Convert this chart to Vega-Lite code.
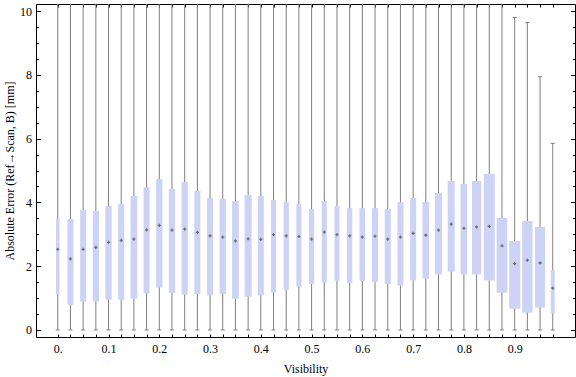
{
  "$schema": "https://vega.github.io/schema/vega-lite/v6.json",
  "autosize": {"type": "none"},
  "width": 539,
  "height": 333,
  "padding": {"left": 36, "top": 4, "right": 1, "bottom": 40},
  "background": "white",
  "config": {
    "view": {"stroke": "black", "strokeWidth": 1},
    "axis": {
      "domain": false,
      "grid": false,
      "tickColor": "black",
      "tickWidth": 1,
      "labelFont": "Liberation Serif",
      "labelFontSize": 12,
      "labelColor": "black",
      "titleFont": "Liberation Serif",
      "titleFontSize": 12,
      "titleFontWeight": "normal",
      "titleColor": "black"
    }
  },
  "data": {
    "values": [
      {"v": 0.000, "min": 0, "q1": 1.11, "med": 2.53, "q3": 3.47, "max": 12, "n": 0.32},
      {"v": 0.025, "min": 0, "q1": 0.79, "med": 2.23, "q3": 3.48, "max": 12, "n": 0.55},
      {"v": 0.050, "min": 0, "q1": 0.89, "med": 2.53, "q3": 3.76, "max": 12, "n": 0.55},
      {"v": 0.075, "min": 0, "q1": 0.89, "med": 2.59, "q3": 3.73, "max": 12, "n": 0.57},
      {"v": 0.100, "min": 0, "q1": 0.95, "med": 2.75, "q3": 3.89, "max": 12, "n": 0.57},
      {"v": 0.125, "min": 0, "q1": 0.95, "med": 2.81, "q3": 3.95, "max": 12, "n": 0.55},
      {"v": 0.150, "min": 0, "q1": 0.98, "med": 2.85, "q3": 4.20, "max": 12, "n": 0.61},
      {"v": 0.175, "min": 0, "q1": 1.15, "med": 3.14, "q3": 4.47, "max": 12, "n": 0.55},
      {"v": 0.200, "min": 0, "q1": 1.33, "med": 3.28, "q3": 4.73, "max": 12, "n": 0.57},
      {"v": 0.225, "min": 0, "q1": 1.16, "med": 3.13, "q3": 4.42, "max": 12, "n": 0.57},
      {"v": 0.250, "min": 0, "q1": 1.11, "med": 3.16, "q3": 4.64, "max": 12, "n": 0.57},
      {"v": 0.275, "min": 0, "q1": 1.13, "med": 3.06, "q3": 4.36, "max": 12, "n": 0.55},
      {"v": 0.300, "min": 0, "q1": 1.08, "med": 2.95, "q3": 4.14, "max": 12, "n": 0.55},
      {"v": 0.325, "min": 0, "q1": 1.13, "med": 2.91, "q3": 4.11, "max": 12, "n": 0.57},
      {"v": 0.350, "min": 0, "q1": 0.98, "med": 2.79, "q3": 4.04, "max": 12, "n": 0.61},
      {"v": 0.375, "min": 0, "q1": 1.04, "med": 2.86, "q3": 4.23, "max": 12, "n": 0.64},
      {"v": 0.400, "min": 0, "q1": 1.08, "med": 2.84, "q3": 4.20, "max": 12, "n": 0.55},
      {"v": 0.425, "min": 0, "q1": 1.17, "med": 2.99, "q3": 4.08, "max": 12, "n": 0.46},
      {"v": 0.450, "min": 0, "q1": 1.26, "med": 2.95, "q3": 4.01, "max": 12, "n": 0.48},
      {"v": 0.475, "min": 0, "q1": 1.36, "med": 2.93, "q3": 3.95, "max": 12, "n": 0.46},
      {"v": 0.500, "min": 0, "q1": 1.44, "med": 2.85, "q3": 3.79, "max": 12, "n": 0.48},
      {"v": 0.525, "min": 0, "q1": 1.48, "med": 3.07, "q3": 4.04, "max": 12, "n": 0.46},
      {"v": 0.550, "min": 0, "q1": 1.54, "med": 2.99, "q3": 3.89, "max": 12, "n": 0.46},
      {"v": 0.575, "min": 0, "q1": 1.47, "med": 2.95, "q3": 3.82, "max": 12, "n": 0.48},
      {"v": 0.600, "min": 0, "q1": 1.54, "med": 2.91, "q3": 3.82, "max": 12, "n": 0.52},
      {"v": 0.625, "min": 0, "q1": 1.50, "med": 2.94, "q3": 3.82, "max": 12, "n": 0.55},
      {"v": 0.650, "min": 0, "q1": 1.44, "med": 2.85, "q3": 3.79, "max": 12, "n": 0.55},
      {"v": 0.675, "min": 0, "q1": 1.39, "med": 2.91, "q3": 4.01, "max": 12, "n": 0.55},
      {"v": 0.700, "min": 0, "q1": 1.55, "med": 3.03, "q3": 4.14, "max": 12, "n": 0.55},
      {"v": 0.725, "min": 0, "q1": 1.61, "med": 2.97, "q3": 4.01, "max": 12, "n": 0.61},
      {"v": 0.750, "min": 0, "q1": 1.74, "med": 3.13, "q3": 4.30, "max": 12, "n": 0.64},
      {"v": 0.775, "min": 0, "q1": 1.83, "med": 3.32, "q3": 4.67, "max": 12, "n": 0.64},
      {"v": 0.800, "min": 0, "q1": 1.74, "med": 3.19, "q3": 4.58, "max": 12, "n": 0.62},
      {"v": 0.825, "min": 0, "q1": 1.74, "med": 3.23, "q3": 4.67, "max": 12, "n": 0.84},
      {"v": 0.850, "min": 0, "q1": 1.55, "med": 3.25, "q3": 4.89, "max": 12, "n": 1.0},
      {"v": 0.875, "min": 0, "q1": 1.17, "med": 2.64, "q3": 3.51, "max": 12, "n": 0.97},
      {"v": 0.900, "min": 0, "q1": 0.67, "med": 2.08, "q3": 2.79, "max": 9.80, "n": 1.0},
      {"v": 0.925, "min": 0, "q1": 0.54, "med": 2.19, "q3": 3.42, "max": 9.64, "n": 0.94},
      {"v": 0.950, "min": 0, "q1": 0.70, "med": 2.10, "q3": 3.23, "max": 7.94, "n": 0.90},
      {"v": 0.975, "min": 0, "q1": 0.51, "med": 1.31, "q3": 1.88, "max": 5.85, "n": 0.36}
    ]
  },
  "resolve": {"axis": {"x": "independent", "y": "independent"}},
  "layer": [
    {
      "mark": {"type": "rule", "color": "#7f7f7f", "strokeWidth": 1, "clip": true},
      "encoding": {
        "x": {
          "field": "v", "type": "quantitative",
          "scale": {"domain": [-0.033, 1.009], "nice": false, "zero": false},
          "axis": {
            "orient": "bottom",
            "title": "Visibility",
            "values": [0,0.025,0.05,0.075,0.1,0.125,0.15,0.175,0.2,0.225,0.25,0.275,0.3,0.325,0.35,0.375,0.4,0.425,0.45,0.475,0.5,0.525,0.55,0.575,0.6,0.625,0.65,0.675,0.7,0.725,0.75,0.775,0.8,0.825,0.85,0.875,0.9,0.925,0.95,0.975],
            "tickSize": -3,
            "labelPadding": 9,
            "labelOverlap": false,
            "labelFlush": false,
            "labelExpr": "abs(datum.value*10 - round(datum.value*10)) < 0.001 ? (datum.value == 0 ? '0.' : format(datum.value, '.1f')) : ''",
            "titleX": 269.5,
            "titleY": 31,
            "titleBaseline": "middle",
            "titleAlign": "center"
          }
        },
        "y": {
          "field": "min", "type": "quantitative",
          "scale": {"domain": [-0.22, 10.22], "nice": false, "zero": false},
          "axis": {
            "orient": "left",
            "title": "Absolute Error (Ref→Scan, B) [mm]",
            "values": [0, 2, 4, 6, 8, 10],
            "format": "d",
            "tickSize": -4.5,
            "labelPadding": 9,
            "labelFlush": false,
            "labelOverlap": false,
            "titleAngle": -90,
            "titleX": -27,
            "titleY": 166.5,
            "titleAlign": "center",
            "titleBaseline": "middle"
          }
        },
        "y2": {"field": "max"}
      }
    },
    {
      "mark": {"type": "bar", "color": "#cdd3f5", "opacity": 1},
      "encoding": {
        "x": {
          "field": "v", "type": "quantitative",
          "axis": {
            "orient": "top", "title": null, "labels": false,
            "values": [0,0.025,0.05,0.075,0.1,0.125,0.15,0.175,0.2,0.225,0.25,0.275,0.3,0.325,0.35,0.375,0.4,0.425,0.45,0.475,0.5,0.525,0.55,0.575,0.6,0.625,0.65,0.675,0.7,0.725,0.75,0.775,0.8,0.825,0.85,0.875,0.9,0.925,0.95,0.975],
            "tickSize": -3
          }
        },
        "y": {
          "field": "q1", "type": "quantitative",
          "axis": {"orient": "right", "title": null, "labels": false, "values": [0, 2, 4, 6, 8, 10], "tickSize": -4.5}
        },
        "y2": {"field": "q3"},
        "size": {"field": "n", "type": "quantitative", "scale": {"domain": [0, 1], "range": [0, 11]}, "legend": null}
      }
    },
    {
      "mark": {"type": "point", "shape": "stroke", "filled": false, "color": "#7f7f7f", "strokeWidth": 1, "size": 16, "opacity": 1},
      "encoding": {
        "x": {"field": "v", "type": "quantitative", "axis": null},
        "y": {
          "field": "min", "type": "quantitative",
          "axis": {"orient": "left", "title": null, "labels": false, "values": [0.5,1,1.5,2.5,3,3.5,4.5,5,5.5,6.5,7,7.5,8.5,9,9.5], "tickSize": -2.5}
        }
      }
    },
    {
      "mark": {"type": "point", "shape": "stroke", "filled": false, "color": "#7f7f7f", "strokeWidth": 1, "size": 16, "opacity": 1, "clip": true},
      "encoding": {
        "x": {"field": "v", "type": "quantitative", "axis": null},
        "y": {
          "field": "max", "type": "quantitative",
          "axis": {"orient": "right", "title": null, "labels": false, "values": [0.5,1,1.5,2.5,3,3.5,4.5,5,5.5,6.5,7,7.5,8.5,9,9.5], "tickSize": -2.5}
        }
      }
    },
    {
      "mark": {"type": "point", "shape": "cross", "filled": true, "color": "#6e6e6e", "size": 10, "opacity": 1},
      "encoding": {
        "x": {"field": "v", "type": "quantitative", "axis": null},
        "y": {"field": "med", "type": "quantitative", "axis": null}
      }
    }
  ]
}
